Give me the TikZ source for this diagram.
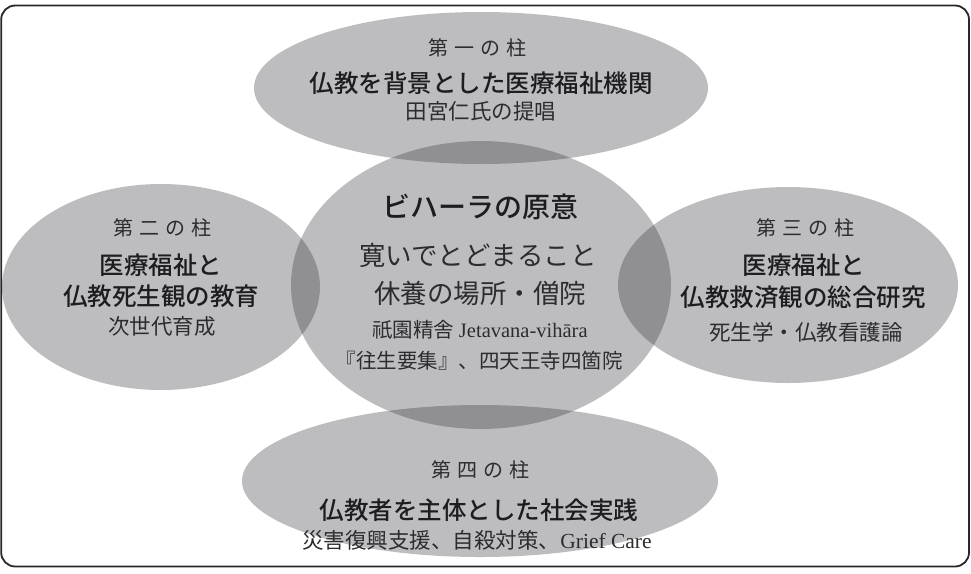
\documentclass[tikz,border=0pt]{standalone}
\usepackage{fontspec}
\usetikzlibrary{shapes.geometric}
\IfFontExistsTF{Noto Sans CJK JP Medium}
  {\newfontfamily\cjk[BoldFont={Noto Sans CJK JP Medium}]{Noto Sans CJK JP}}
  {\newfontfamily\cjk{Noto Sans CJK JP}}
\newfontfamily\latserif{Liberation Serif}
\definecolor{ellgray}{RGB}{38,38,46}
\definecolor{txtbold}{RGB}{30,28,30}
\definecolor{txtreg}{RGB}{45,43,46}
\definecolor{framec}{RGB}{40,40,40}
\newcommand{\fsz}[1]{\fontsize{#1}{#1}\selectfont}
\newcommand{\gp}{\hspace{0.3em}}
\tikzset{
  pillar/.style={shape=ellipse, inner sep=0pt, fill=ellgray, fill opacity=0.3, draw=none},
  lab/.style={anchor=center, inner sep=0pt, text=txtreg, font=\cjk\fsz{20pt}},
  boldline/.style={anchor=center, inner sep=0pt, text=txtbold, font=\cjk\bfseries\fsz{24.5pt}},
  regline/.style={anchor=center, inner sep=0pt, text=txtreg, font=\cjk\fsz{21.5pt}},
  bigline/.style={anchor=center, inner sep=0pt, text=txtreg, font=\cjk\fsz{26.5pt}},
  smallline/.style={anchor=center, inner sep=0pt, text=txtreg, font=\cjk\fsz{20.5pt}},
  titleline/.style={anchor=center, inner sep=0pt, text=txtbold, font=\cjk\bfseries\fsz{28pt}},
}
\begin{document}
\begin{tikzpicture}[x=1pt,y=-1pt]
\useasboundingbox (0,0) rectangle (971,573);
\draw[framec, line width=1.8pt, rounded corners=14pt] (1.2,5.5) rectangle (969,566.5);
% ellipses
\node[pillar, minimum width=454pt, minimum height=152pt] (top) at (481,88) {};
\node[pillar, minimum width=318pt, minimum height=206pt] (left) at (161,287) {};
\node[pillar, minimum width=340pt, minimum height=196pt] (right) at (788,285) {};
\node[pillar, minimum width=476pt, minimum height=152pt] (bottom) at (480,481) {};
\node[pillar, minimum width=380pt, minimum height=288pt] (center) at (481,285) {};
% top texts
\node[lab] (t1) at (477,48) {第\gp 一\gp の\gp 柱};
\node[boldline] (t2) at (481,83) {仏教を背景とした医療福祉機関};
\node[regline] (t3) at (481,111) {田宮仁氏の提唱};
% left texts
\node[lab] (l1) at (162,228) {第\gp 二\gp の\gp 柱};
\node[boldline] (l2) at (161,265) {医療福祉と};
\node[boldline] (l3) at (161,296) {仏教死生観の教育};
\node[regline] (l4) at (162,326) {次世代育成};
% right texts
\node[lab] (r1) at (805,228) {第\gp 三\gp の\gp 柱};
\node[boldline] (r2) at (804,265) {医療福祉と};
\node[boldline] (r3) at (803,297) {仏教救済観の総合研究};
\node[regline] (r4) at (806,332) {死生学・仏教看護論};
% center texts
\node[titleline] (c1) at (480,207) {ビハーラの原意};
\node[bigline] (c2) at (478,255) {寛いでとどまること};
\node[bigline] (c3) at (480,293) {休養の場所・僧院};
\node[smallline] (c4) at (480,330) {祇園精舎 {\latserif Jetavana-vihāra}};
\node[smallline] (c5) at (479,361) {『往生要集』、四天王寺四箇院};
% bottom texts
\node[lab] (b1) at (480,470) {第\gp 四\gp の\gp 柱};
\node[boldline] (b2) at (479,510) {仏教者を主体とした社会実践};
\node[regline] (b3) at (477,540) {災害復興支援、自殺対策、{\latserif Grief Care}};
\end{tikzpicture}
\end{document}
